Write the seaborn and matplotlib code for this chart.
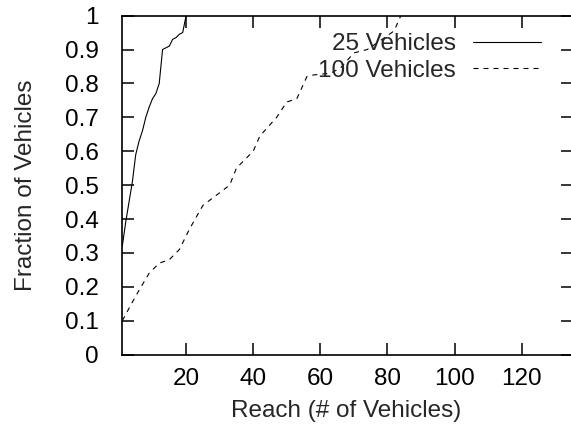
import matplotlib
matplotlib.use("Agg")
import matplotlib.pyplot as plt
import matplotlib.ticker as mticker
import numpy as np
import pandas as pd
import seaborn as sns

# ---- data ----
reach_25 = [1, 2, 3, 4, 5, 6, 7, 8, 9, 10, 11, 12, 13, 14, 15, 16, 17, 18, 19, 20]
frac_25 = [0.32, 0.39, 0.45, 0.51, 0.59, 0.63, 0.66, 0.70, 0.73, 0.755,
           0.77, 0.80, 0.90, 0.905, 0.91, 0.93, 0.935, 0.945, 0.95, 1.0]

reach_100 = [1, 4, 6, 9, 12, 15, 18, 21, 25, 29, 33, 35, 40, 42, 47, 50, 53,
             56, 58, 63, 66, 70, 74, 77, 82, 84]
frac_100 = [0.10, 0.155, 0.19, 0.24, 0.27, 0.28, 0.31, 0.37, 0.44, 0.47, 0.50,
            0.55, 0.60, 0.645, 0.70, 0.745, 0.755, 0.82, 0.825, 0.83, 0.845,
            0.89, 0.90, 0.92, 0.955, 1.0]

series_names = ["25 Vehicles", "100 Vehicles"]
x_ticks = [20, 40, 60, 80, 100, 120]
y_ticks = [0, 0.1, 0.2, 0.3, 0.4, 0.5, 0.6, 0.7, 0.8, 0.9, 1.0]

df = pd.concat([
    pd.DataFrame({"reach": reach_25, "fraction": frac_25, "series": series_names[0]}),
    pd.DataFrame({"reach": reach_100, "fraction": frac_100, "series": series_names[1]}),
], ignore_index=True)

sns.set_style("ticks")
plt.rcParams["font.family"] = ["Liberation Sans", "DejaVu Sans"]
FS = 17.5

fig = plt.figure(figsize=(5.71, 4.30), dpi=100)
ax = fig.add_axes([0.2142, 0.1753, 0.7893, 0.7884])

sns.lineplot(data=df, x="reach", y="fraction", style="series",
             style_order=series_names,
             dashes={series_names[0]: "", series_names[1]: (4.5, 4.5)},
             color="black", linewidth=0.8, sort=False, estimator=None,
             legend=False, ax=ax)

ax.set_xlim(1, 135.3)
ax.set_ylim(0, 1)
ax.set_xticks(x_ticks)
ax.set_yticks(y_ticks)
ax.yaxis.set_major_formatter(mticker.FormatStrFormatter("%g"))
ax.tick_params(axis="both", which="major", direction="in", length=8.5,
               width=1.1, top=True, right=True, labelsize=FS, colors="black")
ax.tick_params(axis="x", pad=9.5)
ax.tick_params(axis="y", pad=17)
for name, s in ax.spines.items():
    s.set_linewidth(1.2)
    s.set_color("black")
    s.set_visible(name != "right")

ax.set_xlabel("Reach (# of Vehicles)", fontsize=FS)
ax.set_ylabel("Fraction of Vehicles", fontsize=FS)
ax.xaxis.set_label_coords(0.496, -0.135)
ax.yaxis.set_label_coords(-0.19, 0.5)

# gnuplot-style key: text right-aligned, sample to the right
lines = ax.get_lines()
anchors = [(0.929, 0.916), (0.929, 0.837)]
legs = []
for ln, name, anc in zip(lines, series_names, anchors):
    leg = ax.legend([ln], [name], loc="center right", bbox_to_anchor=anc,
                    frameon=False, markerfirst=False, fontsize=FS,
                    handlelength=2.8, handletextpad=0.7,
                    borderpad=0, borderaxespad=0)
    legs.append(leg)
for leg in legs[:-1]:
    ax.add_artist(leg)

fig.savefig("out.png", dpi=100)
